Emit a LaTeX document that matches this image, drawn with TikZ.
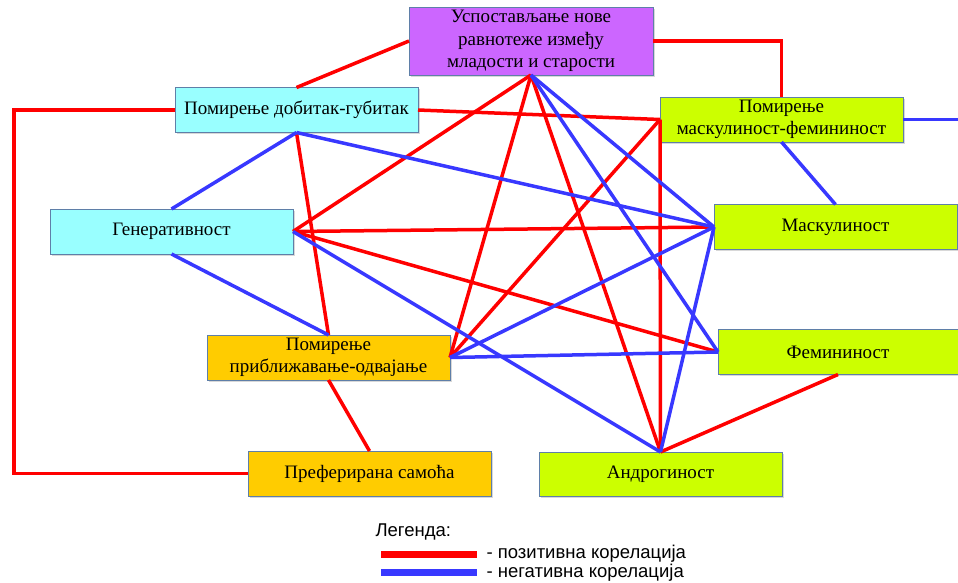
\documentclass[tikz,border=0pt]{standalone}
\usepackage{fontspec}
\setmainfont{Liberation Serif}
\setsansfont{Liberation Sans}
\usetikzlibrary{positioning, shadows}
\definecolor{posred}{HTML}{FF0000}
\definecolor{negblue}{HTML}{3838FF}
\definecolor{ljub}{HTML}{CC66FF}
\definecolor{tirkiz}{HTML}{99FFFF}
\definecolor{limeta}{HTML}{CCFF00}
\definecolor{narand}{HTML}{FFCC00}
\definecolor{okvir}{HTML}{5F7FA8}
\tikzset{
  box/.style={rectangle, draw=okvir, line width=0.9pt, minimum width=243pt, minimum height=45pt,
    inner sep=2pt, outer sep=0pt, align=center, font=\fontsize{19}{22.5}\selectfont,
    drop shadow={shadow xshift=1.5pt, shadow yshift=-1.5pt, fill=black!30, opacity=0.5}},
  poskor/.style={posred, line width=3.5pt},
  negkor/.style={negblue, line width=3.5pt},
  legtext/.style={anchor=west, font=\sffamily\fontsize{18.5}{20}\selectfont},
}

\begin{document}
\begin{tikzpicture}[x=1pt, y=-1pt]
    \useasboundingbox (0,0) rectangle (958,582);
    % boxes
    \node[box, fill=ljub, minimum width=244pt, minimum height=68pt] (uspost) at (531,41)
      {Успостављање нове\\равнотеже између\\младости и старости};
    \node[box, fill=tirkiz] (dobgub) at (296.5,110) {Помирење добитак-губитак};
    \node[box, fill=tirkiz] (gener) at (171.5,231.5) {Генеративност};
    \node[box, fill=narand] (pribl) at (328.5,357.5) {Помирење\\приближавање-одвајање};
    \node[box, fill=narand] (samoca) at (369.5,473.5) {Преферирана самоћа};
    \node[box, fill=limeta] (maskfem) at (781.5,119.5) {Помирење\\маскулиност-фемининост};
    \node[box, fill=limeta] (mask) at (835.5,227) {Маскулиност};
    \node[box, fill=limeta, minimum width=240pt] (femin) at (838,352) {Фемининост};
    \node[box, fill=limeta, minimum height=44pt] (andro) at (660.5,474) {Андрогиност};
    \coordinate (levo) at (14,110);
    \coordinate (izlaz) at (958,119.5);

    % positive correlations
    \draw[poskor] (uspost.west) -- (dobgub.north);
    \draw[poskor] (uspost.east) -| (maskfem.north);
    \draw[poskor] (uspost.south) -- (gener.east);
    \draw[poskor] (uspost.south) -- (pribl.east);
    \draw[poskor] (uspost.south) -- (andro.north);
    \draw[poskor] (dobgub.east) -- (maskfem.west);
    \draw[poskor] (dobgub.south) -- (pribl.north);
    \draw[poskor] (dobgub.west) -- (levo) |- (samoca.west);
    \draw[poskor] (gener.east) -- (mask.west);
    \draw[poskor] (gener.east) -- (femin.west);
    \draw[poskor] (pribl.east) -- (maskfem.west);
    \draw[poskor] (pribl.south) -- (samoca.north);
    \draw[poskor] (maskfem.west) -- (andro.north);
    \draw[poskor] (femin.south) -- (andro.north);

    % negative correlations
    \draw[negkor] (uspost.south) -- (mask.west);
    \draw[negkor] (uspost.south) -- (femin.west);
    \draw[negkor] (dobgub.south) -- (gener.north);
    \draw[negkor] (dobgub.south) -- (mask.west);
    \draw[negkor] (gener.south) -- (pribl.north);
    \draw[negkor] (gener.east) -- (andro.north);
    \draw[negkor] (pribl.east) -- (mask.west);
    \draw[negkor] (pribl.east) -- (femin.west);
    \draw[negkor] (maskfem.east) -- (izlaz);
    \draw[negkor] (maskfem.south) -- (mask.north);
    \draw[negkor] (mask.west) -- (andro.north);

    % legend
    \node[legtext] (legenda) at (372,532) {Легенда:};
    \fill[posred] (381,551) rectangle (477,558);
    \fill[negblue] (381,569) rectangle (477,576);
    \node[legtext] (legpoz) at (483,554) {- позитивна корелација};
    \node[legtext] (legneg) at (483,573) {- негативна корелација};
\end{tikzpicture}
\end{document}
